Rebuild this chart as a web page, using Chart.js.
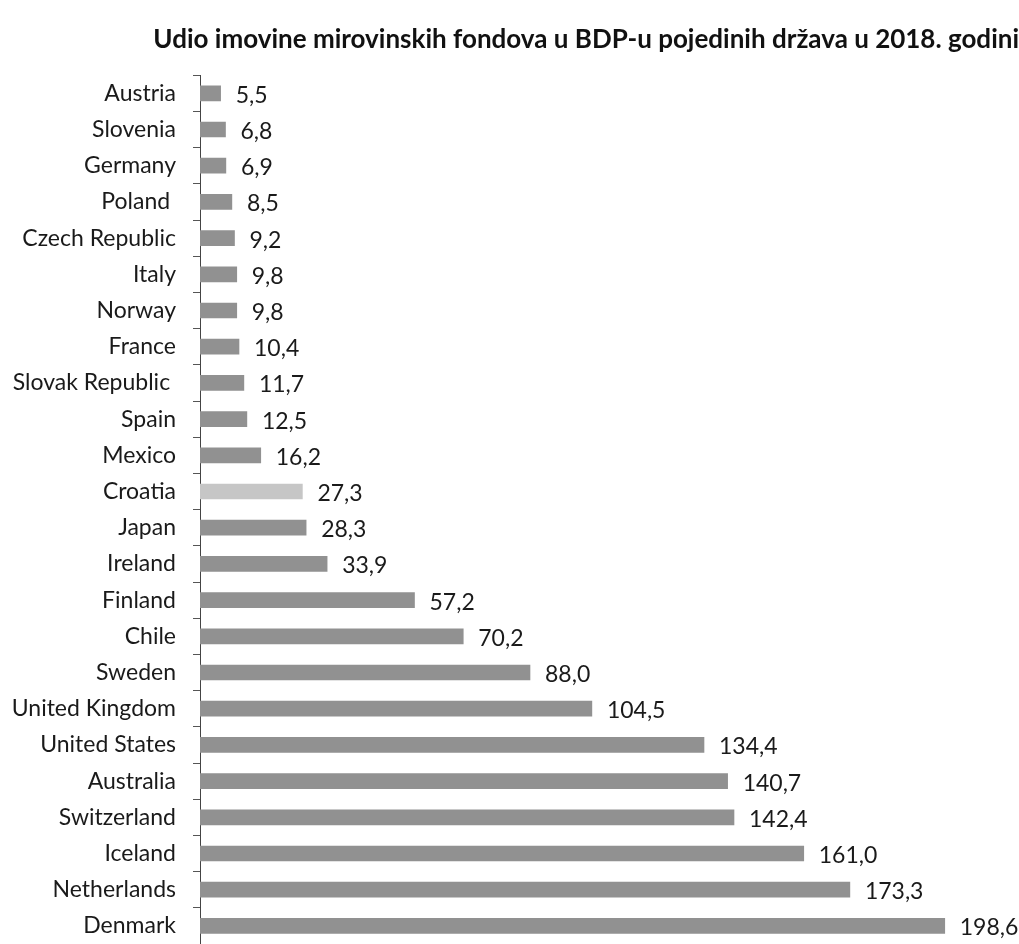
<!DOCTYPE html>
<html>
<head>
<meta charset="utf-8">
<script src="https://cdn.jsdelivr.net/npm/chart.js@4.4.1/dist/chart.umd.min.js"></script>
<style>
  html, body { margin: 0; padding: 0; background: #fff; }
  canvas { display: block; }
</style>
</head>
<body>
<canvas id="chart" width="1019" height="944"></canvas>
<script>
// Data
const titleText = "Udio imovine mirovinskih fondova u BDP-u pojedinih država u 2018. godini";
const countries = [
  "Austria", "Slovenia", "Germany", "Poland ", "Czech Republic", "Italy",
  "Norway", "France", "Slovak Republic ", "Spain", "Mexico", "Croatia",
  "Japan", "Ireland", "Finland", "Chile", "Sweden", "United Kingdom",
  "United States", "Australia", "Switzerland", "Iceland", "Netherlands", "Denmark"
];
const shares = [
  5.5, 6.8, 6.9, 8.5, 9.2, 9.8,
  9.8, 10.4, 11.7, 12.5, 16.2, 27.3,
  28.3, 33.9, 57.2, 70.2, 88.0, 104.5,
  134.4, 140.7, 142.4, 161.0, 173.3, 198.6
];
const highlighted = "Croatia";

const FONT = "Lato, 'Open Sans', sans-serif";

// value labels at the end of each bar, comma as decimal sign
const valueLabels = {
  id: "valueLabels",
  afterDatasetsDraw(chart) {
    const ctx = chart.ctx;
    const meta = chart.getDatasetMeta(0);
    ctx.save();
    ctx.font = "23px " + FONT;
    ctx.fillStyle = "#1a1a1a";
    ctx.textAlign = "left";
    ctx.textBaseline = "middle";
    meta.data.forEach((bar, i) => {
      const txt = shares[i].toFixed(1).replace(".", ",");
      ctx.fillText(txt, bar.x + 15, bar.y + 2);
    });
    ctx.restore();
  }
};

new Chart(document.getElementById("chart").getContext("2d"), {
  type: "bar",
  data: {
    labels: countries,
    datasets: [{
      data: shares,
      backgroundColor: countries.map(c => c.trim() === highlighted ? "#c6c6c6" : "#919191"),
      barThickness: 15,
      borderWidth: 0
    }]
  },
  options: {
    indexAxis: "y",
    responsive: false,
    animation: false,
    devicePixelRatio: 1,
    layout: { padding: 0 },
    scales: {
      x: {
        display: false,
        min: 0,
        max: 218.4
      },
      y: {
        afterFit: scale => {
          scale.width = 200;
          // no extra room above/below, the axis runs to the bottom edge
          scale.paddingTop = 0;
          scale.paddingBottom = 0;
        },
        grid: {
          display: true,
          drawOnChartArea: false,
          drawTicks: true,
          tickLength: 7,
          color: "#555",
          offset: true
        },
        border: { display: true, color: "#444", width: 1 },
        ticks: {
          padding: 17,
          color: "#1a1a1a",
          font: { family: FONT, size: 23 }
        }
      }
    },
    plugins: {
      legend: { display: false },
      tooltip: { enabled: false },
      title: {
        display: true,
        text: titleText,
        align: "end",
        color: "#111",
        font: { family: FONT, size: 26, weight: "bold" },
        padding: { top: 24, bottom: 20 }
      }
    }
  },
  plugins: [valueLabels]
});
</script>
</body>
</html>
